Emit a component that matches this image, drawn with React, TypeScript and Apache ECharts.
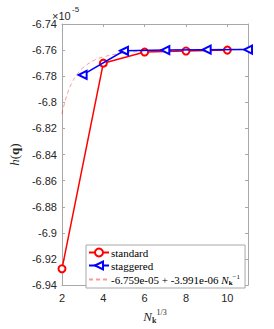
import React, { useEffect, useRef } from "react";
import * as echarts from "echarts";

const standardX = [2, 4, 6, 8, 10];
const standardY = [-6.9275, -6.7700, -6.7615, -6.7607, -6.7600];
const staggeredX = [3, 5, 7, 9, 11];
const staggeredY = [-6.7790, -6.7605, -6.7600, -6.7597, -6.7596];
// fit curve values (units of 1e-5)
const fitX = [2, 2.25, 2.5, 2.75, 3, 3.5, 4, 5, 6, 7, 8, 9, 10, 11];
const fitY = [-6.8089, -6.7940, -6.7845, -6.7782, -6.7738, -6.7683, -6.7652, -6.7622, -6.7608, -6.7602, -6.7598, -6.7595, -6.7594, -6.7593];
const xTicks = { min: 2, max: 11, interval: 2 };
const yTicks = { min: -6.94, max: -6.74, interval: 0.02 };
const legendNames = ["standard", "staggered", "fit"];

const axisGray = "#a8a8a8";
const textDark = "#262626";

export default function App() {
  const ref = useRef<HTMLDivElement>(null);
  useEffect(() => {
    if (!ref.current) return;
    const chart = echarts.init(ref.current, undefined, { renderer: "svg" });
    const pair = (xs: number[], ys: number[]) => xs.map((x, i) => [x, ys[i]]);
    const fmtY = (v: number) => String(parseFloat(v.toFixed(2)));
    chart.setOption({
      animation: false,
      backgroundColor: "#ffffff",
      grid: { left: 49, right: 26, top: 24, bottom: 37, containLabel: false },
      xAxis: [
        {
          type: "value",
          min: xTicks.min,
          max: xTicks.max,
          interval: xTicks.interval,
          position: "bottom",
          axisLine: { show: true, lineStyle: { color: axisGray, width: 1 } },
          axisTick: { show: true, inside: true, length: 3, lineStyle: { color: axisGray } },
          axisLabel: { color: textDark, fontSize: 11, fontFamily: "Liberation Sans", margin: 7, showMaxLabel: false },
          splitLine: { show: false },
          name: "{n|N}{s|k}{p|1/3}",
          nameLocation: "middle",
          nameGap: 20,
          nameTextStyle: {
            rich: {
              n: { fontFamily: "Liberation Serif", fontStyle: "italic", fontSize: 13, color: textDark },
              s: { fontFamily: "Liberation Serif", fontWeight: "bold", fontSize: 8, color: textDark, verticalAlign: "bottom", padding: [8, 0, 0, 0] },
              p: { fontFamily: "Liberation Serif", fontSize: 8, color: textDark, verticalAlign: "top", padding: [0, 0, 8, 0] },
            },
          },
        },
        {
          type: "value",
          min: xTicks.min,
          max: xTicks.max,
          interval: xTicks.interval,
          position: "top",
          axisLine: { show: true, lineStyle: { color: axisGray, width: 1 } },
          axisTick: { show: true, inside: true, length: 3, lineStyle: { color: axisGray } },
          axisLabel: { show: false },
          splitLine: { show: false },
        },
      ],
      yAxis: [
        {
          type: "value",
          min: yTicks.min,
          max: yTicks.max,
          interval: yTicks.interval,
          position: "left",
          axisLine: { show: true, lineStyle: { color: axisGray, width: 1 } },
          axisTick: { show: true, inside: true, length: 3, lineStyle: { color: axisGray } },
          axisLabel: { color: textDark, fontSize: 11, fontFamily: "Liberation Sans", margin: 5, formatter: fmtY },
          splitLine: { show: false },
          name: "{h|h}{q|(}{b|q}{q|)}",
          nameLocation: "middle",
          nameGap: 37,
          nameRotate: 90,
          nameTextStyle: {
            rich: {
              h: { fontFamily: "Liberation Serif", fontStyle: "italic", fontSize: 13, color: textDark },
              q: { fontFamily: "Liberation Serif", fontSize: 13, color: textDark },
              b: { fontFamily: "Liberation Serif", fontWeight: "bold", fontSize: 13, color: textDark },
            },
          },
        },
        {
          type: "value",
          min: yTicks.min,
          max: yTicks.max,
          interval: yTicks.interval,
          position: "right",
          axisLine: { show: true, lineStyle: { color: axisGray, width: 1 } },
          axisTick: { show: true, inside: true, length: 3, lineStyle: { color: axisGray } },
          axisLabel: { show: false },
          splitLine: { show: false },
        },
      ],
      legend: {
        left: 86,
        top: 245,
        orient: "vertical",
        data: [
          { name: legendNames[0] },
          { name: legendNames[1] },
          { name: legendNames[2], itemStyle: { opacity: 0 } },
        ],
        backgroundColor: "#ffffff",
        borderColor: "#a8a8a8",
        borderWidth: 1,
        borderRadius: 0,
        padding: [2, 5, 2, 2],
        itemGap: 2,
        itemWidth: 20,
        itemHeight: 10,
        selectedMode: false,
        formatter: (name: string) =>
          name === "fit"
            ? "{a|-6.759e-05 + -3.991e-06 }{n|N}{s|k}{p|−1}"
            : name,
        textStyle: {
          fontFamily: "Liberation Serif",
          fontSize: 11,
          color: "#000000",
          padding: [0, 0, 0, -3],
          rich: {
            a: { fontFamily: "Liberation Serif", fontSize: 11, color: "#000" },
            n: { fontFamily: "Liberation Serif", fontStyle: "italic", fontSize: 11, color: "#000" },
            s: { fontFamily: "Liberation Serif", fontWeight: "bold", fontSize: 7, color: "#000", verticalAlign: "bottom", padding: [6, 0, 0, 0] },
            p: { fontFamily: "Liberation Serif", fontSize: 7, color: "#000", verticalAlign: "top", padding: [0, 0, 6, 0] },
          },
        },
      },
      graphic: [
        {
          type: "text",
          left: 52,
          top: 10,
          style: { text: "×10", fontFamily: "Liberation Sans", fontSize: 11, fill: textDark },
        },
        {
          type: "text",
          left: 72,
          top: 5,
          style: { text: "-5", fontFamily: "Liberation Sans", fontSize: 8, fill: textDark },
        },
      ],
      series: [
        {
          name: "standard",
          type: "line",
          data: pair(standardX, standardY),
          symbol: "emptyCircle",
          symbolSize: 7,
          lineStyle: { color: "#ff0000", width: 1.5 },
          itemStyle: { color: "#ff0000", borderWidth: 1.2 },
          z: 3,
        },
        {
          name: "staggered",
          type: "line",
          data: pair(staggeredX, staggeredY),
          symbol: "emptyTriangle",
          symbolRotate: 90,
          symbolSize: 8,
          lineStyle: { color: "#0000ff", width: 1.5 },
          itemStyle: { color: "#0000ff", borderWidth: 1.2 },
          z: 4,
        },
        {
          name: "fit",
          type: "line",
          data: pair(fitX, fitY),
          smooth: true,
          showSymbol: false,
          symbol: "none",
          lineStyle: { color: "rgba(255,0,0,0.4)", width: 1, type: [4, 3] },
          itemStyle: { color: "rgba(255,0,0,0.4)" },
          z: 2,
        },
      ],
    });
    return () => chart.dispose();
  }, []);
  return <div ref={ref} style={{ width: 274, height: 329, position: "absolute", left: 0, top: 0 }} />;
}
